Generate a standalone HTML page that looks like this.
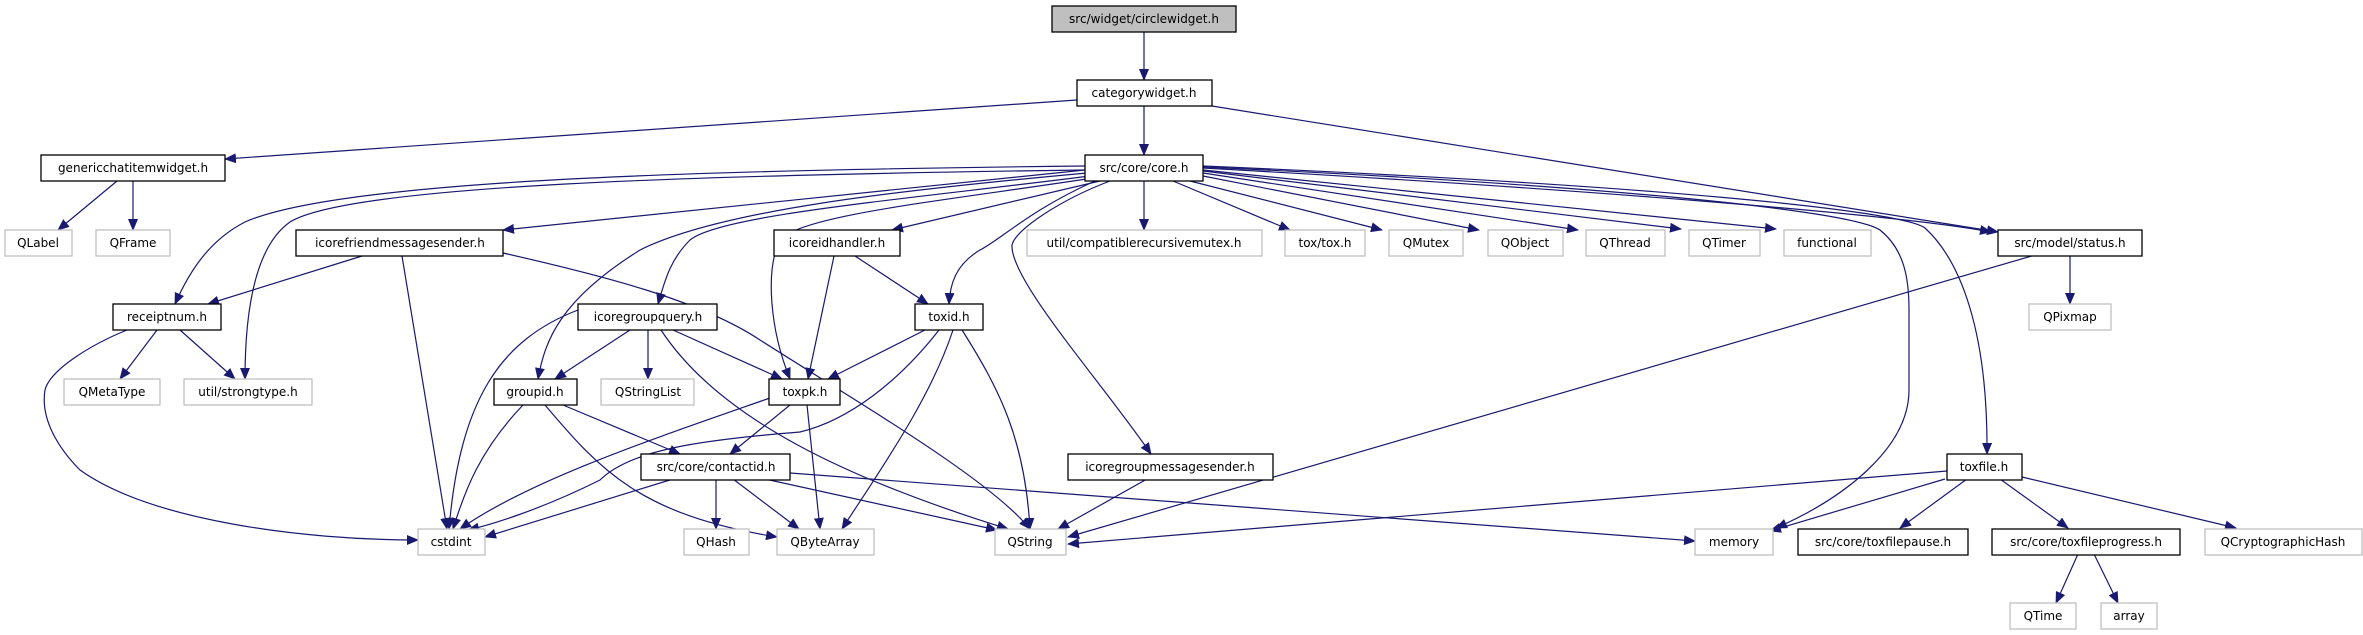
<!DOCTYPE html>
<html><head><meta charset="utf-8"><style>
html,body{margin:0;padding:0;background:#fff;}
svg{display:block;}
text{font-family:"DejaVu Sans","Liberation Sans",sans-serif;font-size:12px;fill:#000;text-anchor:middle;}
.e{fill:none;stroke:#191970;stroke-width:1.2;marker-end:url(#a);}
.n{fill:#fff;stroke:#000;stroke-width:1.3;}
.g{fill:#fff;stroke:#bfbfbf;stroke-width:1.3;}
</style></head><body>
<svg width="2363" height="635" viewBox="0 0 2363 635" xmlns="http://www.w3.org/2000/svg">
<defs><marker id="a" markerUnits="userSpaceOnUse" markerWidth="12" markerHeight="10" refX="11" refY="5" orient="auto"><path d="M0,0 L12,5 L0,10 z" fill="#191970"/></marker></defs>
<!-- edges -->
<path class="e" d="M1144,32 L1144,80"/>
<path class="e" d="M1077,100 L225,159"/>
<path class="e" d="M1144,106 L1144,155"/>
<path class="e" d="M1212,106 L1998,232"/>
<path class="e" d="M117,181 L58,230"/>
<path class="e" d="M133,181 L133,230"/>
<path class="e" d="M1085,166 C700,170 340,180 245,222 C210,240 190,270 175,304"/>
<path class="e" d="M1085,170 C700,175 350,185 290,222 C250,250 245,330 245,379"/>
<path class="e" d="M1085,170 L503,230"/>
<path class="e" d="M1087,173 C900,190 720,210 640,250 C560,300 545,340 538,379"/>
<path class="e" d="M1090,176 C900,200 720,215 690,240 C670,260 665,280 658,304"/>
<path class="e" d="M1093,178 C950,200 800,215 780,240 C765,270 770,330 790,379"/>
<path class="e" d="M1100,181 L892,230"/>
<path class="e" d="M1095,181 C1030,210 1000,240 980,250 C955,265 950,285 949,304"/>
<path class="e" d="M1110,181 C1060,200 1015,230 1012,245 C1010,280 1100,380 1151,454"/>
<path class="e" d="M1144,181 L1144,230"/>
<path class="e" d="M1173,181 L1290,230"/>
<path class="e" d="M1190,181 L1382,230"/>
<path class="e" d="M1203,176 L1479,230"/>
<path class="e" d="M1203,173 L1578,230"/>
<path class="e" d="M1203,171 L1681,229"/>
<path class="e" d="M1203,170 L1776,229"/>
<path class="e" d="M1203,168 C1600,190 1900,215 1991,232"/>
<path class="e" d="M1203,167 C1600,185 1850,210 1880,230 C1905,250 1909,280 1909,310 L1909,390 C1909,450 1840,500 1776,528"/>
<path class="e" d="M1203,166 C1650,185 1900,210 1925,228 C1960,260 1988,330 1987,454"/>
<path class="e" d="M362,256 L208,304"/>
<path class="e" d="M402,256 L447,529"/>
<path class="e" d="M503,253 C600,275 700,300 760,340 C870,410 990,480 1030,529"/>
<path class="e" d="M127,330 C90,345 50,370 45,390 C40,420 60,450 80,470 C150,520 300,540 418,540"/>
<path class="e" d="M157,330 L120,379"/>
<path class="e" d="M180,330 L235,379"/>
<path class="e" d="M578,310 C500,340 460,400 449,529"/>
<path class="e" d="M630,330 L555,379"/>
<path class="e" d="M648,330 L648,379"/>
<path class="e" d="M673,330 L782,379"/>
<path class="e" d="M661,330 C720,420 850,480 1008,529"/>
<path class="e" d="M834,256 L808,379"/>
<path class="e" d="M855,256 L928,304"/>
<path class="e" d="M925,330 L828,379"/>
<path class="e" d="M939,330 C900,380 850,420 800,432 C700,440 630,450 600,480 C540,510 490,525 468,530"/>
<path class="e" d="M953,330 C930,400 880,470 842,529"/>
<path class="e" d="M962,330 C1000,390 1025,440 1030,529"/>
<path class="e" d="M770,398 C650,440 530,480 460,529"/>
<path class="e" d="M790,405 L730,454"/>
<path class="e" d="M807,405 L820,529"/>
<path class="e" d="M523,405 C480,450 465,490 453,529"/>
<path class="e" d="M563,405 L680,454"/>
<path class="e" d="M545,405 C600,470 640,515 777,537"/>
<path class="e" d="M673,479 L485,537"/>
<path class="e" d="M716,479 L716,529"/>
<path class="e" d="M733,479 L799,529"/>
<path class="e" d="M765,479 L997,530"/>
<path class="e" d="M790,473 L1695,541"/>
<path class="e" d="M1147,479 L1058,529"/>
<path class="e" d="M2035,255 L1068,537"/>
<path class="e" d="M2070,255 L2070,304"/>
<path class="e" d="M1947,471 L1068,544"/>
<path class="e" d="M1945,479 L1770,531"/>
<path class="e" d="M1967,479 L1900,528"/>
<path class="e" d="M2000,479 L2068,528"/>
<path class="e" d="M2022,477 L2236,528"/>
<path class="e" d="M2078,554 L2056,603"/>
<path class="e" d="M2094,554 L2118,603"/>
<!-- nodes -->
<rect x="1052" y="6" width="184" height="26" fill="#bfbfbf" stroke="#000" stroke-width="1.3"/><text x="1144" y="23">src/widget/circlewidget.h</text>
<rect class="n" x="1077" y="80" width="135" height="26"/><text x="1144" y="97">categorywidget.h</text>
<rect class="n" x="41" y="155" width="184" height="26"/><text x="133" y="172">genericchatitemwidget.h</text>
<rect class="n" x="1085" y="155" width="118" height="26"/><text x="1144" y="172">src/core/core.h</text>
<rect class="g" x="5" y="230" width="67" height="26"/><text x="38" y="247">QLabel</text>
<rect class="g" x="96" y="230" width="74" height="26"/><text x="133" y="247">QFrame</text>
<rect class="n" x="296" y="230" width="207" height="26"/><text x="400" y="247">icorefriendmessagesender.h</text>
<rect class="n" x="774" y="230" width="126" height="26"/><text x="837" y="247">icoreidhandler.h</text>
<rect class="g" x="1027" y="230" width="235" height="26"/><text x="1144" y="247">util/compatiblerecursivemutex.h</text>
<rect class="g" x="1285" y="230" width="80" height="26"/><text x="1325" y="247">tox/tox.h</text>
<rect class="g" x="1389" y="230" width="74" height="26"/><text x="1426" y="247">QMutex</text>
<rect class="g" x="1488" y="230" width="75" height="26"/><text x="1525" y="247">QObject</text>
<rect class="g" x="1586" y="230" width="79" height="26"/><text x="1625" y="247">QThread</text>
<rect class="g" x="1689" y="230" width="71" height="26"/><text x="1724" y="247">QTimer</text>
<rect class="g" x="1784" y="230" width="87" height="26"/><text x="1827" y="247">functional</text>
<rect class="n" x="1998" y="230" width="144" height="26"/><text x="2070" y="247">src/model/status.h</text>
<rect class="n" x="113" y="304" width="108" height="26"/><text x="167" y="321">receiptnum.h</text>
<rect class="n" x="578" y="304" width="139" height="26"/><text x="648" y="321">icoregroupquery.h</text>
<rect class="n" x="915" y="304" width="68" height="26"/><text x="949" y="321">toxid.h</text>
<rect class="g" x="2029" y="304" width="82" height="26"/><text x="2070" y="321">QPixmap</text>
<rect class="g" x="64" y="379" width="96" height="26"/><text x="112" y="396">QMetaType</text>
<rect class="g" x="184" y="379" width="128" height="26"/><text x="248" y="396">util/strongtype.h</text>
<rect class="n" x="494" y="379" width="83" height="26"/><text x="535" y="396">groupid.h</text>
<rect class="g" x="601" y="379" width="93" height="26"/><text x="648" y="396">QStringList</text>
<rect class="n" x="769" y="379" width="71" height="26"/><text x="805" y="396">toxpk.h</text>
<rect class="n" x="641" y="454" width="149" height="26"/><text x="716" y="471">src/core/contactid.h</text>
<rect class="n" x="1068" y="454" width="205" height="26"/><text x="1170" y="471">icoregroupmessagesender.h</text>
<rect class="n" x="1947" y="454" width="75" height="26"/><text x="1984" y="471">toxfile.h</text>
<rect class="g" x="418" y="529" width="67" height="26"/><text x="451" y="546">cstdint</text>
<rect class="g" x="684" y="529" width="65" height="26"/><text x="716" y="546">QHash</text>
<rect class="g" x="777" y="529" width="97" height="26"/><text x="825" y="546">QByteArray</text>
<rect class="g" x="995" y="529" width="71" height="26"/><text x="1030" y="546">QString</text>
<rect class="g" x="1695" y="529" width="78" height="26"/><text x="1734" y="546">memory</text>
<rect class="n" x="1798" y="529" width="170" height="26"/><text x="1883" y="546">src/core/toxfilepause.h</text>
<rect class="n" x="1992" y="529" width="188" height="26"/><text x="2086" y="546">src/core/toxfileprogress.h</text>
<rect class="g" x="2205" y="529" width="157" height="26"/><text x="2283" y="546">QCryptographicHash</text>
<rect class="g" x="2010" y="603" width="66" height="26"/><text x="2043" y="620">QTime</text>
<rect class="g" x="2101" y="603" width="56" height="26"/><text x="2129" y="620">array</text>
</svg>
</body></html>
